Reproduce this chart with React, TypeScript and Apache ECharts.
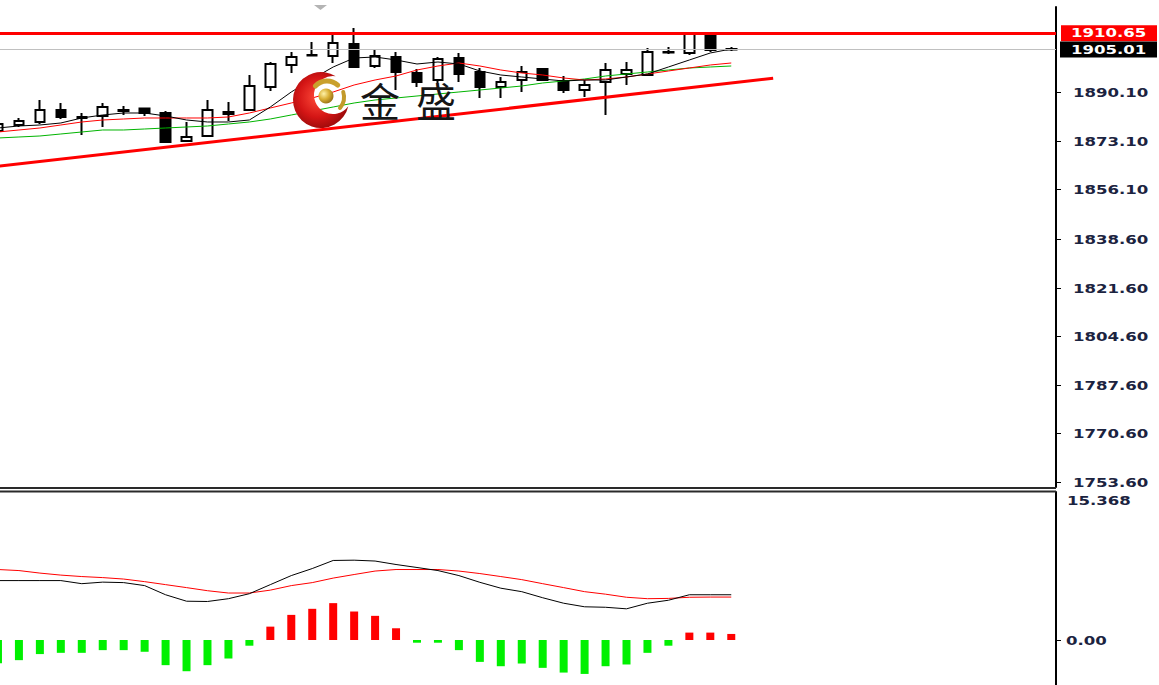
import React, { useEffect, useRef } from "react";
import * as echarts from "echarts";

// ---- data ----
const SLOTS = Array.from({ length: 51 }, (_, i) => String(i));

const OPEN = [1876.45, 1878.55, 1879.6, 1883.8, 1881.0, 1881.7, 1883.45, 1884.3, 1882.75, 1872.95, 1874.7, 1882.4, 1883.8, 1891.85, 1899.55, 1902.9, 1902.7, 1906.9, 1899.2, 1902.35, 1896.75, 1894.3, 1902.0, 1897.1, 1891.85, 1894.3, 1898.15, 1893.95, 1890.8, 1893.6, 1896.4, 1896.05, 1903.9, 1903.75, 1910.5, 1905.15];
const CLOSE = [1878.9, 1879.95, 1883.8, 1881.35, 1881.35, 1884.85, 1883.8, 1882.75, 1872.6, 1874.35, 1883.8, 1883.1, 1892.2, 1899.9, 1902.35, 1903.05, 1907.25, 1898.85, 1902.7, 1897.1, 1893.6, 1901.65, 1896.4, 1891.85, 1893.6, 1897.1, 1894.3, 1890.8, 1892.55, 1897.8, 1897.8, 1904.1, 1904.1, 1910.4, 1904.8, 1905.01];
const LOW = [1875.4, 1877.85, 1878.9, 1880.65, 1875.05, 1877.85, 1882.05, 1881.7, 1872.25, 1872.6, 1874.35, 1879.95, 1883.45, 1890.45, 1896.75, 1902.7, 1900.25, 1898.5, 1898.5, 1890.8, 1891.85, 1893.25, 1893.6, 1888.0, 1888.0, 1890.1, 1893.95, 1889.75, 1888.35, 1882.05, 1892.55, 1895.7, 1903.4, 1903.05, 1904.1, 1904.45];
const HIGH = [1879.6, 1881.0, 1887.3, 1886.25, 1882.75, 1886.25, 1885.2, 1884.7, 1883.45, 1879.6, 1887.3, 1886.6, 1896.05, 1900.6, 1904.1, 1907.6, 1910.05, 1912.5, 1904.8, 1904.1, 1898.15, 1902.35, 1903.75, 1898.5, 1895.35, 1899.2, 1898.5, 1895.7, 1894.3, 1900.25, 1900.6, 1905.5, 1905.85, 1910.65, 1910.65, 1905.85];

const MA_FAST = [1877.5, 1878.2, 1878.55, 1879.25, 1881.0, 1882.05, 1882.75, 1882.75, 1881.7, 1880.3, 1879.6, 1879.6, 1880.3, 1884.85, 1890.1, 1894.65, 1898.85, 1902.0, 1902.35, 1901.3, 1899.9, 1900.6, 1899.9, 1897.45, 1896.05, 1895.35, 1894.65, 1893.95, 1894.3, 1894.3, 1895.35, 1896.4, 1898.85, 1901.3, 1903.75, 1905.15];
const MA_MID = [1876.1, 1876.8, 1877.5, 1878.55, 1879.6, 1880.3, 1880.65, 1881.0, 1881.0, 1881.0, 1881.0, 1881.35, 1882.75, 1884.5, 1886.25, 1888.0, 1890.1, 1892.55, 1894.3, 1895.7, 1897.8, 1899.2, 1900.25, 1899.2, 1897.8, 1896.75, 1896.05, 1895.0, 1894.3, 1894.65, 1895.35, 1896.4, 1897.45, 1898.5, 1899.55, 1900.25];
const MA_SLOW = [1874.0, 1874.35, 1874.7, 1875.4, 1876.1, 1876.8, 1876.8, 1877.15, 1877.5, 1877.85, 1878.2, 1878.9, 1879.6, 1880.65, 1882.05, 1883.45, 1884.85, 1886.25, 1887.3, 1888.0, 1888.7, 1889.4, 1890.1, 1890.8, 1891.5, 1892.2, 1893.25, 1893.95, 1894.65, 1895.7, 1896.4, 1897.1, 1897.8, 1898.5, 1898.85, 1899.2];

const MACD_HIST = [-2.4, -2.09, -1.46, -1.33, -1.33, -1.05, -1.05, -1.22, -2.61, -3.24, -2.61, -1.92, -0.59, 1.39, 2.61, 3.24, 3.83, 2.96, 2.51, 1.22, -0.28, -0.28, -1.05, -2.27, -2.72, -2.44, -2.89, -3.38, -3.52, -2.72, -2.54, -1.33, -0.59, 0.77, 0.77, 0.63];
const MACD_MAIN = [6.17, 6.17, 6.17, 6.17, 5.85, 6.01, 5.96, 5.65, 4.7, 4.03, 4.0, 4.29, 4.81, 5.75, 6.69, 7.42, 8.26, 8.29, 8.2, 7.84, 7.53, 7.21, 6.69, 5.99, 5.38, 5.02, 4.39, 3.82, 3.45, 3.4, 3.24, 3.82, 4.13, 4.7, 4.7, 4.7];
const MACD_SIGNAL = [7.32, 7.21, 6.95, 6.74, 6.59, 6.48, 6.33, 6.06, 5.75, 5.44, 5.12, 4.88, 4.88, 5.18, 5.65, 5.96, 6.43, 6.8, 7.16, 7.32, 7.32, 7.32, 7.16, 6.9, 6.59, 6.27, 5.85, 5.44, 5.02, 4.76, 4.44, 4.29, 4.32, 4.44, 4.46, 4.46];

const PRICE_TICKS = [1890.1, 1873.1, 1856.1, 1838.6, 1821.6, 1804.6, 1787.6, 1770.6, 1753.6];
const PRICE_TICK_LABELS = ["1890.10", "1873.10", "1856.10", "1838.60", "1821.60", "1804.60", "1787.60", "1770.60", "1753.60"];
const RESIST = 1910.65;
const RESIST_LABEL = "1910.65";
const BID = 1905.01;
const BID_LABEL = "1905.01";
const TREND_START = [0, 1864.1];
const TREND_END = [37, 1894.9];
const PRICE_MIN = 1751.84;
const PRICE_MAX = 1919.85;
const MACD_MIN = -4.67;
const MACD_MAX = 15.368;
const MACD_MAX_LABEL = "15.368";
const MACD_ZERO = 0;
const MACD_ZERO_LABEL = "0.00";

const CRESCENT_D = "M14.75,-23.8 A28,28 0 1,0 27.29,6.29 A19,19 0 1,1 14.75,-23.8 Z";
echarts.graphic.registerShape("logo", echarts.graphic.extendPath(CRESCENT_D, {}));

const GRID_LEFT = -12.5;
const GRID_WIDTH = 1068.5;
const AXIS_X = GRID_LEFT + GRID_WIDTH;
const LABEL_FONT = 'bold 12px "DejaVu Sans"';
const LABEL_SCALE = 1.38;
const LABEL_COLOR = "#1b2340";

export default function App() {
  const ref = useRef<HTMLDivElement>(null);
  useEffect(() => {
    const chart = echarts.init(ref.current!, null, { renderer: "svg" });
    const candleData = OPEN.map((o, i) => [o, CLOSE[i], LOW[i], HIGH[i]]);
    const histData = MACD_HIST.map((v) => ({
      value: v,
      itemStyle: { color: v >= 0 ? "#ff0000" : "#00f000" },
    }));
    chart.setOption({
      animation: false,
      backgroundColor: "#ffffff",
      textStyle: { fontFamily: "DejaVu Sans" },
      grid: [
        { left: GRID_LEFT, top: 7, width: GRID_WIDTH, height: 480, outerBoundsMode: "none", containLabel: false },
        { left: GRID_LEFT, top: 492, width: GRID_WIDTH, height: 193, outerBoundsMode: "none", containLabel: false },
      ],
      xAxis: [
        { type: "category", data: SLOTS, gridIndex: 0, boundaryGap: true, show: false },
        { type: "category", data: SLOTS, gridIndex: 1, boundaryGap: true, show: false },
      ],
      yAxis: [
        {
          type: "value", gridIndex: 0, position: "right", min: PRICE_MIN, max: PRICE_MAX,
          splitLine: { show: false },
          axisLine: { show: true, lineStyle: { color: "#000", width: 2 } },
          axisTick: { show: false }, axisLabel: { show: false },
        },
        {
          type: "value", gridIndex: 1, position: "right", min: MACD_MIN, max: MACD_MAX,
          splitLine: { show: false },
          axisLine: { show: true, lineStyle: { color: "#000", width: 2 } },
          axisTick: { show: false }, axisLabel: { show: false },
        },
      ],
      series: [
        {
          type: "candlestick", xAxisIndex: 0, yAxisIndex: 0, data: candleData,
          barWidth: 10, z: 3,
          itemStyle: { color: "#ffffff", color0: "#000000", borderColor: "#000000", borderColor0: "#000000", borderWidth: 2 },
          markLine: {
            silent: true, symbol: ["none", "none"], label: { show: false }, animation: false,
            data: [
              { yAxis: RESIST, lineStyle: { color: "#ff0000", width: 3, type: "solid" } },
              { yAxis: BID, lineStyle: { color: "#c0c0c0", width: 1, type: "solid" } },
              [
                { coord: TREND_START, lineStyle: { color: "#ff0000", width: 3, type: "solid" } },
                { coord: TREND_END },
              ],
            ],
          },
        },
        { type: "line", xAxisIndex: 0, yAxisIndex: 0, data: MA_SLOW, symbol: "none", z: 4, lineStyle: { color: "#00b400", width: 1 } },
        { type: "line", xAxisIndex: 0, yAxisIndex: 0, data: MA_MID, symbol: "none", z: 4, lineStyle: { color: "#ff0000", width: 1 } },
        { type: "line", xAxisIndex: 0, yAxisIndex: 0, data: MA_FAST, symbol: "none", z: 4, lineStyle: { color: "#000000", width: 1 } },
        { type: "bar", xAxisIndex: 1, yAxisIndex: 1, data: histData, barWidth: 8 },
        { type: "line", xAxisIndex: 1, yAxisIndex: 1, data: MACD_SIGNAL, symbol: "none", lineStyle: { color: "#ff0000", width: 1 } },
        { type: "line", xAxisIndex: 1, yAxisIndex: 1, data: MACD_MAIN, symbol: "none", lineStyle: { color: "#000000", width: 1 } },
      ],
    });

    const py0 = (v: number) => chart.convertToPixel({ yAxisIndex: 0 }, v) as number;
    const py1 = (v: number) => chart.convertToPixel({ yAxisIndex: 1 }, v) as number;

    const label = (text: string, x: number, y: number, fill: string) => ({
      type: "text", x, y, scaleX: LABEL_SCALE, z: 100,
      style: { text, fill, font: LABEL_FONT, align: "left", verticalAlign: "middle", textAlign: "left", textVerticalAlign: "middle" },
    });
    const tick = (y: number) => ({
      type: "line", z: 100,
      shape: { x1: AXIS_X + 1, y1: y, x2: AXIS_X + 5, y2: y },
      style: { stroke: "#000", lineWidth: 1 },
    });

    const g: any[] = [];
    PRICE_TICKS.forEach((v, i) => {
      const y = Math.round(py0(v)) + 0.5;
      g.push(tick(y));
      g.push(label(PRICE_TICK_LABELS[i], 1073, y, LABEL_COLOR));
    });
    const yr = py0(RESIST);
    g.push({ type: "rect", z: 101, shape: { x: 1061, y: yr - 8, width: 96, height: 16 }, style: { fill: "#ff0000" } });
    g.push({ ...label(RESIST_LABEL, 1071, yr, "#ffffff"), z: 102 });
    const yb = py0(BID);
    g.push({ type: "rect", z: 101, shape: { x: 1060, y: yb - 8, width: 97, height: 16 }, style: { fill: "#000000" } });
    g.push({ ...label(BID_LABEL, 1071, yb, "#ffffff"), z: 102 });

    const y0 = Math.round(py1(MACD_ZERO)) + 0.5;
    g.push(tick(y0));
    g.push(label(MACD_ZERO_LABEL, 1066, y0, LABEL_COLOR));
    g.push(label(MACD_MAX_LABEL, 1067, py1(MACD_MAX) + 9, LABEL_COLOR));

    // pane separator
    g.push({ type: "line", z: 100, shape: { x1: 0, y1: 488, x2: AXIS_X, y2: 488 }, style: { stroke: "#2a2a2a", lineWidth: 2 } });
    g.push({ type: "line", z: 100, shape: { x1: 0, y1: 491.5, x2: AXIS_X, y2: 491.5 }, style: { stroke: "#2a2a2a", lineWidth: 2 } });

    // shift marker
    g.push({ type: "polygon", z: 100, shape: { points: [[314, 5], [327, 5], [320.5, 10]] }, style: { fill: "#b4b4b4" } });

    // watermark logo
    g.push({
      type: "logo", x: 321, y: 100, z: 110,
      style: {
        fill: new echarts.graphic.RadialGradient(0.45, 0.45, 0.65, [
          { offset: 0, color: "#ff4b3a" },
          { offset: 0.55, color: "#d41515" },
          { offset: 1, color: "#8a0707" },
        ]),
      },
    });
    g.push({
      type: "arc", z: 111,
      shape: { cx: 327, cy: 97, r: 16, startAngle: 3.9, endAngle: 5.45, clockwise: true },
      style: { stroke: "#c9a02c", lineWidth: 5, lineCap: "round", fill: "none" },
    });
    g.push({
      type: "arc", z: 111,
      shape: { cx: 327, cy: 97, r: 17, startAngle: -0.3, endAngle: 0.7, clockwise: true },
      style: { stroke: "#c39a2a", lineWidth: 4, lineCap: "round", fill: "none" },
    });
    g.push({
      type: "circle", z: 112,
      shape: { cx: 326, cy: 96, r: 7.5 },
      style: {
        fill: new echarts.graphic.RadialGradient(0.35, 0.35, 0.75, [
          { offset: 0, color: "#fff2a8" },
          { offset: 0.5, color: "#d8ae32" },
          { offset: 1, color: "#8c6612" },
        ]),
      },
    });
    g.push({
      type: "text", x: 380, y: 100, z: 110,
      style: { text: "金", fill: "#151515", font: '40px "Noto Sans CJK SC"', align: "center", verticalAlign: "middle", textAlign: "center", textVerticalAlign: "middle" },
    });
    g.push({
      type: "text", x: 436, y: 100, z: 110,
      style: { text: "盛", fill: "#151515", font: '40px "Noto Sans CJK SC"', align: "center", verticalAlign: "middle", textAlign: "center", textVerticalAlign: "middle" },
    });

    chart.setOption({ graphic: g });
    return () => chart.dispose();
  }, []);
  return <div ref={ref} style={{ position: "fixed", left: 0, top: 0, width: 1159, height: 685 }} />;
}
